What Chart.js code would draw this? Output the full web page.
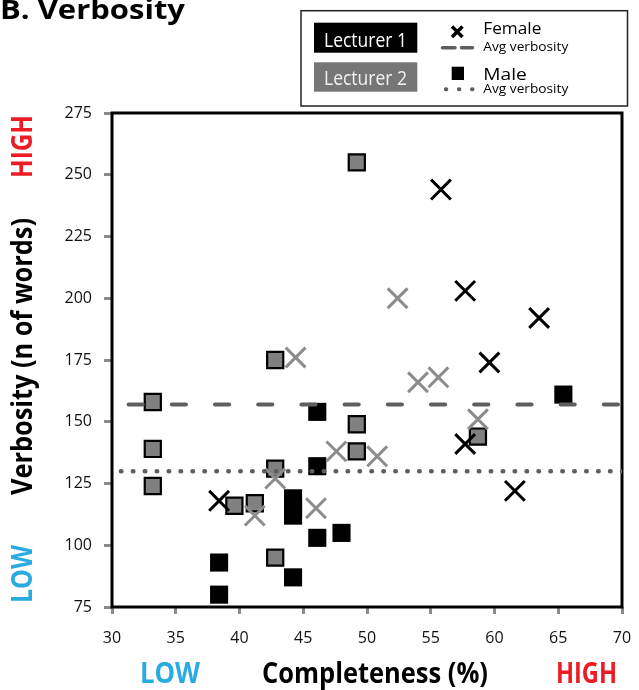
<!DOCTYPE html>
<html>
<head>
<meta charset="utf-8">
<script src="https://cdn.jsdelivr.net/npm/chart.js@4.4.0/dist/chart.umd.min.js"></script>
<style>
  html, body { margin: 0; padding: 0; background: #fff; }
  #wrap { width: 639px; height: 690px; }
</style>
</head>
<body>
<div id="wrap"><canvas id="chart" width="639" height="690"></canvas></div>
<script>
// completeness (%) / verbosity (n of words) per student
var lect1FemaleX = [55.8, 57.7, 63.5, 59.6, 57.7, 61.6, 38.4];
var lect1FemaleY = [244, 203, 192, 174, 141, 122, 118];

var lect2FemaleX = [52.4, 44.4, 54.0, 55.6, 58.7, 50.8, 47.6, 42.8, 41.2, 46.0];
var lect2FemaleY = [200, 176, 166, 168, 151, 136, 138, 127, 112, 115];

var lect1MaleX = [38.4, 38.4, 44.2, 44.2, 44.2, 44.2, 46.1, 46.1, 46.1, 48.0, 65.4];
var lect1MaleY = [93, 80, 119, 115, 112, 87, 103, 132, 154, 105, 161];

var lect2MaleX = [49.2, 42.8, 33.2, 33.2, 33.2, 39.6, 41.2, 42.8, 42.8, 49.2, 49.2, 58.7];
var lect2MaleY = [255, 175, 158, 139, 124, 116, 117, 131, 95, 149, 138, 144];

// average verbosity lines
var femaleAvg = 157;
var maleAvg = 130;
var femaleLineX = [31.3, 70];
var maleLineX = [30.7, 70];

var xTicks = [30, 35, 40, 45, 50, 55, 60, 65, 70];
var yTicks = [75, 100, 125, 150, 175, 200, 225, 250, 275];

var FONT = '"Open Sans", "DejaVu Sans", sans-serif';
var RED = '#ed1c24', BLUE = '#29abe2', LINE_GRAY = '#5e5e5e';

function pts(xs, ys) {
  return xs.map(function(x, i) { return { x: x, y: ys[i] }; });
}

function fitText(ctx, text, x, y, w, font, color, rotate) {
  ctx.save();
  ctx.font = font;
  ctx.fillStyle = color;
  ctx.textBaseline = 'alphabetic';
  ctx.textAlign = 'left';
  ctx.translate(x, y);
  if (rotate) ctx.rotate(-Math.PI / 2);
  var m = ctx.measureText(text).width;
  ctx.scale(w / m, 1);
  ctx.fillText(text, 0, 0);
  ctx.restore();
}

var decorations = {
  id: 'decorations',
  beforeDatasetsDraw: function(chart) {
    var ctx = chart.ctx, a = chart.chartArea;
    ctx.save();
    ctx.strokeStyle = '#000';
    ctx.lineWidth = 3;
    ctx.strokeRect(a.left, a.top, a.right - a.left, a.bottom - a.top);
    ctx.restore();
  },
  afterDraw: function(chart) {
    var ctx = chart.ctx;
    var bold = 'bold 28px ' + FONT;

    fitText(ctx, 'B. Verbosity', 0, 18.5, 185, 'bold 26px ' + FONT, '#000');

    // axis captions
    fitText(ctx, 'LOW', 140, 683, 60, bold, BLUE);
    fitText(ctx, 'Completeness (%)', 262, 683, 226, bold, '#000');
    fitText(ctx, 'HIGH', 556, 683, 61, bold, RED);
    fitText(ctx, 'HIGH', 31.5, 178, 63, bold, RED, true);
    fitText(ctx, 'Verbosity (n of words)', 32, 495, 277, bold, '#000', true);
    fitText(ctx, 'LOW', 31.5, 603, 58, bold, BLUE, true);

    // legend box
    ctx.save();
    ctx.strokeStyle = '#222';
    ctx.lineWidth = 1.5;
    ctx.strokeRect(301, 10.7, 326.5, 95.3);
    ctx.fillStyle = '#000';
    ctx.fillRect(314, 22.7, 103.3, 30);
    ctx.fillStyle = '#767676';
    ctx.fillRect(314, 62.3, 103.3, 29.4);
    ctx.restore();
    fitText(ctx, 'Lecturer 1', 324, 46.7, 83, '20px ' + FONT, '#fff');
    fitText(ctx, 'Lecturer 2', 324, 85.3, 83, '20px ' + FONT, '#f2f2f2');

    ctx.save();
    ctx.strokeStyle = '#000';
    ctx.lineWidth = 3.5;
    ctx.beginPath();
    ctx.moveTo(452, 26.5); ctx.lineTo(462.5, 37);
    ctx.moveTo(462.5, 26.5); ctx.lineTo(452, 37);
    ctx.stroke();
    ctx.fillStyle = '#000';
    ctx.fillRect(451.7, 66.7, 12.3, 13.3);

    ctx.strokeStyle = LINE_GRAY;
    ctx.lineCap = 'round';
    ctx.lineWidth = 3.5;
    ctx.beginPath();
    ctx.moveTo(442.5, 47.7); ctx.lineTo(455, 47.7);
    ctx.moveTo(461.5, 47.7); ctx.lineTo(472.5, 47.7);
    ctx.stroke();
    ctx.lineWidth = 4;
    ctx.setLineDash([0.5, 12.6]);
    ctx.beginPath();
    ctx.moveTo(445.8, 89.3); ctx.lineTo(473, 89.3);
    ctx.stroke();
    ctx.restore();

    fitText(ctx, 'Female', 483.3, 33.5, 58, '17px ' + FONT, '#000');
    fitText(ctx, 'Avg verbosity', 483.3, 50.5, 85, '12.5px ' + FONT, '#000');
    fitText(ctx, 'Male', 483.3, 80, 43.5, '17px ' + FONT, '#000');
    fitText(ctx, 'Avg verbosity', 483.3, 93.3, 85, '12.5px ' + FONT, '#000');
  }
};

var squareGray = { pointStyle: 'rect', pointRadius: 11.4, backgroundColor: '#808080', borderColor: '#000', borderWidth: 2.2 };
var squareBlack = { pointStyle: 'rect', pointRadius: 12.8, backgroundColor: '#000', borderColor: '#000', borderWidth: 0 };

new Chart(document.getElementById('chart'), {
  type: 'scatter',
  data: {
    datasets: [
      {
        label: 'Female avg', data: pts(femaleLineX, [femaleAvg, femaleAvg]), showLine: true,
        pointRadius: 0, borderColor: LINE_GRAY, borderWidth: 4, borderDash: [14.2, 29], borderCapStyle: 'round'
      },
      {
        label: 'Male avg', data: pts(maleLineX, [maleAvg, maleAvg]), showLine: true,
        pointRadius: 0, borderColor: LINE_GRAY, borderWidth: 4.5, borderDash: [0.5, 11.43], borderCapStyle: 'round'
      },
      {
        label: 'Lecturer 1 female', data: pts(lect1FemaleX, lect1FemaleY),
        pointStyle: 'crossRot', pointRadius: 14, borderColor: '#000', borderWidth: 3
      },
      {
        label: 'Lecturer 2 female', data: pts(lect2FemaleX, lect2FemaleY),
        pointStyle: 'crossRot', pointRadius: 14, borderColor: '#8c8c8c', borderWidth: 3
      },
      Object.assign({ label: 'Lecturer 1 male', data: pts(lect1MaleX, lect1MaleY) }, squareBlack),
      Object.assign({ label: 'Lecturer 2 male', data: pts(lect2MaleX, lect2MaleY) }, squareGray)
    ]
  },
  options: {
    responsive: false,
    devicePixelRatio: 1,
    animation: false,
    events: [],
    layout: { padding: { top: 113, right: 12, left: 0, bottom: 0 } },
    plugins: { legend: { display: false }, tooltip: { enabled: false } },
    scales: {
      x: {
        type: 'linear', min: 30, max: 70,
        afterBuildTicks: function(s) { s.ticks = xTicks.map(function(v) { return { value: v }; }); },
        afterFit: function(s) { s.height = 83; s.paddingLeft = 0; s.paddingRight = 0; },
        ticks: { font: { family: FONT, size: 16 }, color: '#111', padding: 15 },
        grid: { drawOnChartArea: false, tickLength: 7, color: '#8a8a8a', lineWidth: 3 },
        border: { display: false }
      },
      y: {
        type: 'linear', min: 75, max: 275,
        afterBuildTicks: function(s) { s.ticks = yTicks.map(function(v) { return { value: v }; }); },
        afterFit: function(s) { s.width = 112; s.paddingTop = 0; s.paddingBottom = 0; },
        ticks: { font: { family: FONT, size: 16 }, color: '#111', padding: 12 },
        grid: { drawOnChartArea: false, tickLength: 8, color: '#8a8a8a', lineWidth: 3 },
        border: { display: false }
      }
    }
  },
  plugins: [decorations]
});
</script>
</body>
</html>
